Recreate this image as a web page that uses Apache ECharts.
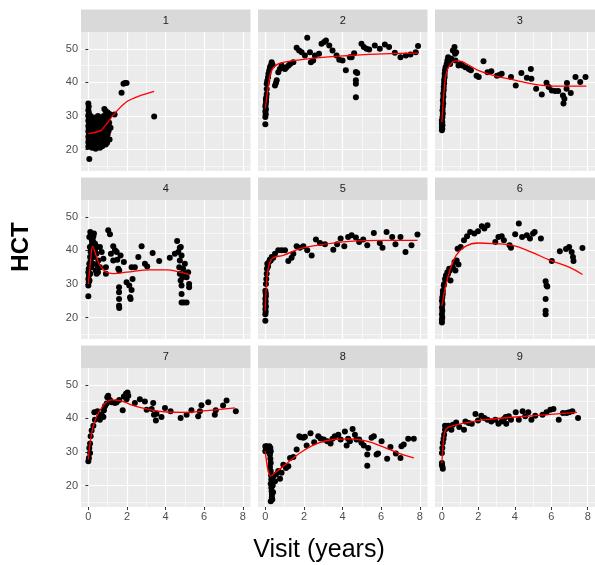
<!DOCTYPE html>
<html>
<head>
<meta charset="utf-8">
<script src="https://cdn.jsdelivr.net/npm/echarts@6/dist/echarts.min.js"></script>
<style>
  html, body { margin: 0; padding: 0; background: #fff; }
  #main { width: 595px; height: 565px; }
</style>
</head>
<body>
<div id="main"></div>
<script>
const panelNames = ["1", "2", "3", "4", "5", "6", "7", "8", "9"];
const xTicks = [0, 2, 4, 6, 8];
const xMinor = [1, 3, 5, 7];
const yTicks = [20, 30, 40, 50];
const yMinor = [15, 25, 35, 45];

// panel 1
const pts1 = [
  [0,33.7],[0.02,32.8],[0,31.7],[0.03,30.9],[0,30.2],[0.02,29.5],[0,28.6],[0.04,27.8],[0,27],[0.02,26.2],
  [0,25.4],[0.03,24.6],[0,23.8],[0.02,23],[0,22.2],[0.03,21.5],[0,20.8],[0.05,17.2],
  [0.1,24],[0.12,26.5],[0.15,28.5],[0.18,22.5],[0.2,25],[0.22,27.5],[0.25,21.5],[0.27,23.5],[0.3,26],[0.32,29],
  [0.35,24.5],[0.38,20.2],[0.4,22.5],[0.42,27],[0.45,25.5],[0.47,28.5],[0.5,23],[0.52,21.5],[0.55,26.5],[0.57,24],
  [0.6,28],[0.62,22],[0.65,25],[0.67,27.5],[0.7,23.5],[0.72,21],[0.75,26],[0.77,29],[0.8,24.5],[0.82,22.5],
  [0.85,27],[0.87,25.5],[0.9,31.5],[0.9,28.5],[0.92,23.5],[0.95,30.5],[0.95,26.5],[0.97,22],[1,24.5],[1,27.5],
  [1.02,29.5],[1,31],
  [0.05,21],[0.08,22.5],[0.1,28],[0.12,30],[0.15,23.5],[0.18,26],[0.2,20.5],[0.22,29.5],[0.25,27],[0.28,24.5],
  [0.3,22.5],[0.33,21],[0.35,27.5],[0.38,29.5],[0.4,25],[0.43,23.5],[0.45,21.5],[0.48,26],[0.5,30],[0.52,27],
  [0.55,22.5],[0.58,25.5],[0.6,20.5],[0.62,29.5],[0.65,23],[0.68,26],[0.7,28.5],[0.72,24.5],[0.75,22],[0.78,27],
  [0.8,30],[0.83,32.1],[0.83,25.5],[0.85,23],[0.88,29.5],[0.9,21.5],[0.92,26],[1.05,25.5],[1.08,28],[1.1,23],
  [1.12,30.5],[1.15,26.5],
  [1.36,30.4],[1.72,36.9],[1.82,39.6],[1.9,39.8],[1.98,39.8],[3.41,29.8]
];
const fit1 = [[0,24.7],[0.66,25.7],[1.34,30.6],[1.95,34.1],[2.72,36.1],[3.41,37.3]];

// panel 2
const pts2 = [
  [0,27.5],[0,29.7],[0.02,30.5],[0,31.3],[0.03,32],[0,32.8],[0.02,33.5],[0.04,34.3],[0.03,35],[0.05,35.6],
  [0.07,36.5],[0.07,38],[0.07,39.6],[0.1,40.5],[0.14,41.5],[0.16,42.6],[0.2,43.5],[0.24,44.5],[0.28,45],[0.33,46],
  [0.38,45.2],[0.5,39.1],[0.55,39.8],[0.59,40.6],[0.67,43],[0.75,44],[0.84,45],[0.95,44.2],[1.02,44],[1.1,44.5],
  [1.2,45],[1.28,45.5],[1.45,46],[1.62,50.3],[1.75,49.5],[1.88,49],[2.05,48],[2.17,53.3],[2.31,49],[2.36,46],
  [2.48,46.5],[2.57,48],[2.78,48.5],[2.91,51.5],[3.05,52],[3.14,52.5],[3.31,51],[3.48,49.5],[3.69,48],[3.83,46.7],
  [4,46.5],[4.17,43.6],[4.38,47.5],[4.47,47.5],[4.6,48.7],[4.69,43.1],[4.76,42.8],[4.69,40.6],[4.69,39.6],[4.69,35.6],
  [4.98,51.5],[5.1,50.5],[5.24,50],[5.38,49.8],[5.67,51],[5.93,50],[6.19,51.3],[6.41,50.5],[6.71,48.8],[7,47.5],
  [7.28,48],[7.52,48.3],[7.79,49],[7.91,50.8]
];
const fit2 = [[0,32.2],[0.16,39.1],[0.33,43.6],[0.67,45.5],[1.28,46.3],[2.66,47.3],[4.38,48],[6.1,48.5],[7.91,48.7]];

// panel 3
const pts3 = [
  [0,25.7],[0.02,26.2],[0,26.7],[0.03,27.2],[0,27.7],[0.02,28.2],[0,28.7],[0.03,29.7],[0.05,30.7],[0.03,31.7],
  [0.05,32.7],[0.07,33.7],[0.05,34.7],[0.08,35.7],[0.07,36.7],[0.1,37.7],[0.1,38.7],[0.12,39.7],[0.12,40.7],[0.15,41.6],
  [0.15,42.6],[0.17,43.6],[0.2,44.5],[0.26,45.5],[0.3,46.5],[0.34,47.5],[0.4,46.8],[0.45,45.5],[0.52,47],[0.6,49.5],
  [0.69,50.5],[0.72,48.5],[0.78,49],[0.74,46.5],[0.91,45],[1.02,45.5],[1.12,45],[1.29,44.5],[1.47,44],[1.59,43.6],
  [1.9,42],[2.02,41.6],[2.28,46.3],[2.5,43],[2.71,43.3],[3.02,42],[3.15,42.2],[3.28,42.6],[3.79,41.6],[4.05,39.1],
  [4.36,42.8],[4.66,41.4],[4.88,44],[4.91,41.1],[5.17,38.1],[5.48,36.4],[5.74,39.9],[5.86,38.6],[6.03,37.6],[6.21,37.4],
  [6.38,37.4],[6.64,36.1],[6.67,33.7],[6.72,35.1],[6.84,38.1],[6.86,39.8],[7.07,36.8],[7.33,41.6],[7.59,40.1],[7.88,41.6]
];
const fit3 = [[0,28.2],[0.12,37.6],[0.26,43.1],[0.52,45.7],[0.86,46.5],[1.29,45.7],[1.98,43.6],[3.02,41.8],[4.05,40.6],[5.09,39.4],[6.12,38.9],[7.93,38.9]];

// panel 4
const pts4 = [
  [0,26.3],[0,29.5],[0.02,30.5],[0,31.5],[0.03,32.5],[0,33.5],[0.02,34.5],[0.05,36],[0.09,38],[0.12,39.5],
  [0.14,40.5],[0.17,41.5],[0.2,42.5],[0.22,43.5],[0.26,44.2],[0.29,45],[0.26,42.5],[0.34,40],[0.43,33],[0.52,37],
  [0.47,35.5],[0.6,41],[0.69,39.5],[0.6,35],[0.78,37.5],[0.91,35],[0.91,33],[1.03,46],[1.12,44.8],[1.17,39],
  [1.29,41.2],[1.38,40],[1.29,37],[1.47,39.5],[1.5,37.2],[1.55,34.5],[1.6,34],[1.59,29],[1.59,27.5],[1.59,25.5],
  [1.59,23.5],[1.6,22.8],[1.67,38.5],[1.84,36.5],[1.98,30.5],[2.12,29.5],[2.16,26],[2.19,25.5],[2.24,28.2],[2.29,31.5],
  [2.24,35],[2.41,35],[2.59,38],[2.76,41.2],[2.93,36],[3.05,35.2],[3.33,39.2],[3.67,36.8],[4.22,37.8],[4.48,39],
  [4.6,42.8],[4.66,39.5],[4.74,40.8],[4.74,37],[4.79,41],[4.83,38.5],[4.71,35],[4.74,33],[4.78,31],[4.83,29.5],
  [4.83,27],[4.83,24.5],[4.95,24.5],[5.09,24.5],[4.91,34.5],[5,33],[5.09,32],[5.17,33.5],[5.22,30],[5.22,29],
  [5,36],[4.88,32],
  [0.05,44],[0.1,45.5],[0.15,44.5],[0.18,43],[0.08,41],[0.12,37],[0.15,35],[0.1,33],[0.06,31],[0.2,39],
  [0.25,36],[0.3,38],[0.35,42],[0.38,34],[0.42,39],[0.45,41],[0.5,33.5]
];
const fit4 = [[0,30],[0.12,37],[0.22,41.2],[0.4,38.5],[0.6,35.5],[0.9,33.6],[1.29,33.1],[1.98,33.5],[3.19,34.2],[4.05,34.2],[4.74,33.5],[5.26,32.7]];

// panel 5
const pts5 = [
  [0,19],[0,21],[0.02,21.7],[0,22.5],[0.03,23.3],[0,24],[0.02,24.8],[0,25.6],[0.03,26.4],[0.02,27.2],
  [0,28],[0.03,30],[0.05,31.5],[0.07,33],[0.08,34.5],[0.1,36],[0.14,35.2],[0.19,36.5],[0.23,37.2],[0.28,37],
  [0.33,38],[0.41,37.8],[0.5,39],[0.67,40],[0.84,40],[1.02,40],[1.19,36.8],[1.36,37.8],[1.45,39],[1.62,41.2],
  [1.79,40.8],[1.97,41.2],[2.17,40],[2.4,38.5],[2.62,43.2],[2.83,42.2],[3.09,41.8],[3.52,40.2],[3.72,41.8],[3.9,43.5],
  [4.09,41.2],[4.29,44],[4.47,44.5],[4.69,43.8],[4.86,42.5],[5.07,43.2],[5.28,41.5],[5.62,45.2],[5.93,42.2],[6.07,40.8],
  [6.28,45.5],[6.57,44],[6.74,41.8],[7,44],[7.26,39.5],[7.57,41.5],[7.88,44.7]
];
const fit5 = [[0,22],[0.07,31],[0.21,36],[0.41,37.8],[0.93,38.5],[1.79,40.5],[2.66,41.5],[4.38,42.7],[6.1,43],[7.88,43]];

// panel 6
const pts6 = [
  [0,18.5],[0,19.3],[0.02,20],[0,21],[0.02,22],[0,23],[0.03,24],[0,25],[0.02,26],[0.05,27],
  [0.05,28],[0.1,29.5],[0.12,30],[0.17,31.5],[0.22,32.5],[0.26,32],[0.3,33.5],[0.34,33],[0.4,34.5],[0.43,34],
  [0.47,31],[0.6,35],[0.69,36.5],[0.74,34],[0.81,37],[0.91,35.8],[0.86,40.5],[1.03,41],[1.21,43],[1.38,44.2],
  [1.55,45.5],[1.78,45],[1.98,45.7],[2.19,47.2],[2.33,46.5],[2.5,47.5],[2.93,42.5],[3.1,44],[3.28,44.2],[3.4,43],
  [3.71,41.5],[3.79,40.8],[4.02,44.8],[4.22,48],[4.4,44],[4.66,44.5],[4.83,43.5],[5,45],[5.09,45.5],[5.43,43.5],
  [5.69,30.8],[5.74,29.5],[5.78,29.2],[5.69,25.5],[5.69,22],[5.69,21],[6.03,36.8],[6.47,39.7],[6.81,40.4],[6.98,41],
  [7.12,39.5],[7.19,38],[7.22,36.8],[7.71,40.7]
];
const fit6 = [[0,23.5],[0.17,28.5],[0.43,34],[0.78,38.5],[1.29,41.2],[1.98,42.2],[2.84,42],[3.88,41.5],[4.91,39.5],[5.95,37],[6.98,35],[7.71,32.8]];

// panel 7
const pts7 = [
  [0,27.2],[0.03,28.2],[0.09,29.7],[0.05,31.2],[0.09,32.5],[0.12,34.7],[0.17,36.4],[0.26,37.8],[0.34,39.6],[0.31,41.8],
  [0.47,42.1],[0.6,39.6],[0.69,41.1],[0.78,40.4],[0.57,40.6],[0.81,42.4],[0.86,43.6],[0.95,44.4],[0.98,46.3],[1.03,46.7],
  [1.12,45.5],[1.21,44.8],[1.38,44.6],[1.47,44.8],[1.6,45.5],[1.78,42.4],[1.84,46.5],[1.95,47.3],[2.03,47.7],[2.07,46.7],
  [1.98,45.7],[2.41,44.6],[2.67,45.7],[2.93,45],[3.02,42.6],[3.28,42.8],[3.36,44.6],[3.4,41.1],[3.5,39.4],[3.53,41.4],
  [3.79,40.4],[3.97,43.1],[4.26,42.1],[4.78,40.1],[5.09,41.1],[5.34,42.4],[5.69,40.6],[5.78,42.1],[5.86,43.9],[6.21,44.8],
  [6.55,41.1],[6.6,42.4],[6.98,43.8],[7.16,45.3],[7.64,42.1]
];
const fit7 = [[0,27.7],[0.09,32.7],[0.26,37.8],[0.52,41.6],[0.86,44.4],[1.21,45.5],[1.64,45.3],[2.33,43.8],[3.19,42.6],[4.05,41.9],[5.09,41.8],[6.12,42.3],[7.59,43.1]];

// panel 8
const pts8 = [
  [0,31.7],[0,30.2],[0.03,31],[0.07,31.7],[0.1,30.5],[0.14,31.5],[0.17,30.7],[0.21,31.7],[0.26,31.2],[0.28,30.2],
  [0.24,29.2],[0.26,28],[0.28,26.7],[0.24,25.5],[0.28,24.3],[0.3,23],[0.31,21.8],[0.28,20.5],[0.31,19.3],[0.33,18.3],
  [0.34,17.3],[0.34,16.5],[0.36,15.8],[0.28,15.3],[0.38,20],[0.4,18],[0.36,22.5],[0.41,22.8],[0.5,21.3],[0.55,23.3],
  [0.67,24.3],[0.76,22],[0.84,23.8],[0.93,26.2],[1.07,25.2],[1.19,25.7],[1.28,28.2],[1.45,28.5],[1.62,30.7],[1.76,34.7],
  [1.83,34.4],[1.97,34.2],[2.05,34.5],[2.14,31.9],[2.34,35.6],[2.53,32.9],[2.74,34.7],[2.86,34],[3.03,33.7],[3.21,33.2],
  [3.38,32.5],[3.48,33.9],[3.6,34.7],[3.78,35.1],[3.9,33.7],[4.12,36.1],[4.21,31.9],[4.29,33.9],[4.38,33.2],[4.52,36.8],
  [4.64,35.1],[4.72,33.7],[4.86,33.7],[4.98,32.7],[5.1,31.9],[5.28,29.2],[5.28,25.9],[5.33,31.2],[5.5,34.2],[5.62,34.7],
  [5.76,29.2],[5.84,29.5],[6.02,33.2],[6.31,28],[6.48,31.5],[6.76,29.5],[7,28.2],[7.05,31.7],[7.17,32.2],[7.4,33.9],
  [7.69,33.9]
];
const fit8 = [[0,30.2],[0.28,22.8],[0.5,23.8],[0.93,25.7],[1.79,29.7],[2.66,32.5],[3.52,33.7],[4.38,33.9],[5.24,33.2],[6.1,31.5],[6.97,29.5],[7.69,28.2]];

// panel 9
const pts9 = [
  [0,26.7],[0.02,25.7],[0.05,25],[0,26.2],[0,29.7],[0.02,31.2],[0.05,32.7],[0.09,33.9],[0.12,35.1],[0.17,36.6],
  [0.17,37.8],[0.26,37.4],[0.34,37.8],[0.43,37.1],[0.52,36.6],[0.6,38.1],[0.78,38.8],[0.95,37.4],[1.21,36.6],[1.29,39.1],
  [1.47,38.6],[1.64,38.4],[1.84,41.3],[1.98,39.4],[2.16,40.8],[2.33,40.1],[2.5,39.6],[2.71,39.1],[2.93,39.6],[3.1,38.4],
  [3.28,39.1],[3.4,39.8],[3.53,38.4],[3.5,40.4],[3.67,40.6],[3.79,39.6],[4.05,41.8],[4.22,39.6],[4.43,42.1],[4.57,40.6],
  [4.74,41.8],[4.91,39.6],[5.12,40.8],[5.52,41.1],[5.74,41.8],[5.95,42.6],[6.12,42.8],[6.41,39.6],[6.64,41.6],[6.84,41.6],
  [6.98,41.8],[7.16,42.1],[7.47,40.1]
];
const fit9 = [[0,26.7],[0.09,33.7],[0.22,36.8],[0.6,37.8],[1.47,38.8],[2.33,39.6],[4.05,40.4],[5.78,41.1],[7.41,41.8]];

const panelPoints = [pts1, pts2, pts3, pts4, pts5, pts6, pts7, pts8, pts9];
const panelFits = [fit1, fit2, fit3, fit4, fit5, fit6, fit7, fit8, fit9];

const chart = echarts.init(document.getElementById("main"));

const colLeft = [81, 258, 435];
const rowTop = [32, 200, 368];
const panelW = 169.5;
const panelH = 139;
const stripH = 22.5;
const xMin = -0.38, xMax = 8.4;
const yMin = 13.6, yMax = 55;

const grids = [], xAxes = [], yAxes = [], series = [], graphics = [];

panelNames.forEach((name, i) => {
  const r = Math.floor(i / 3), c = i % 3;
  grids.push({
    left: colLeft[c], top: rowTop[r], width: panelW, height: panelH,
    show: true, backgroundColor: "#ebebeb", borderWidth: 0
  });
  const showX = r === 2, showY = c === 0;
  // major axes
  xAxes.push({
    type: "value", gridIndex: i, min: xMin, max: xMax, position: "bottom",
    axisLine: { show: false },
    axisTick: { show: showX, customValues: xTicks, length: 3, lineStyle: { color: "#333" } },
    axisLabel: { show: showX, customValues: xTicks, color: "#4d4d4d", fontSize: 11, margin: 4, fontFamily: "Liberation Sans" },
    splitLine: { show: true, lineStyle: { color: "#fff", width: 1.2 } }
  });
  yAxes.push({
    type: "value", gridIndex: i, min: yMin, max: yMax, position: "left",
    axisLine: { show: false },
    axisTick: { show: showY, customValues: yTicks, length: 3, lineStyle: { color: "#333" } },
    axisLabel: { show: showY, customValues: yTicks, color: "#4d4d4d", fontSize: 11, margin: 3, fontFamily: "Liberation Sans" },
    splitLine: { show: true, lineStyle: { color: "#fff", width: 1.2 } }
  });
  // minor grid axes
  xAxes.push({
    type: "value", gridIndex: i, min: xMin, max: xMax, position: "top",
    axisLine: { show: false },
    axisTick: { show: false, customValues: xMinor },
    axisLabel: { show: false, customValues: xMinor },
    splitLine: { show: true, lineStyle: { color: "#fff", width: 0.6 } }
  });
  yAxes.push({
    type: "value", gridIndex: i, min: yMin, max: yMax, position: "right",
    axisLine: { show: false },
    axisTick: { show: false, customValues: yMinor },
    axisLabel: { show: false, customValues: yMinor },
    splitLine: { show: true, lineStyle: { color: "#fff", width: 0.6 } }
  });

  series.push({
    type: "scatter", xAxisIndex: 2 * i, yAxisIndex: 2 * i,
    data: panelPoints[i], symbolSize: 6,
    itemStyle: { color: "#000", opacity: 1 }, silent: true
  });
  series.push({
    type: "line", xAxisIndex: 2 * i, yAxisIndex: 2 * i,
    data: panelFits[i], smooth: i === 0 ? 0.15 : 0.4, showSymbol: false, symbol: "none",
    lineStyle: { color: "#ff0000", width: 1.3 }, silent: true, z: 3
  });

  // strip on top of each panel
  graphics.push({
    type: "rect",
    shape: { x: colLeft[c], y: rowTop[r] - stripH, width: panelW, height: stripH },
    style: { fill: "#d9d9d9" }
  });
  graphics.push({
    type: "text",
    x: colLeft[c] + panelW / 2, y: rowTop[r] - stripH / 2,
    style: { text: name, fill: "#1a1a1a", font: '11px "Liberation Sans"', align: "center", verticalAlign: "middle" }
  });
});

graphics.push({
  type: "text", x: 21, y: 247, rotation: Math.PI / 2,
  style: { text: "HCT", fill: "#000", font: 'bold 24px "Liberation Sans"', align: "center", verticalAlign: "middle" }
});
graphics.push({
  type: "text", x: 319, y: 550,
  style: { text: "Visit (years)", fill: "#000", font: '25px "Liberation Sans"', align: "center", verticalAlign: "middle" }
});

chart.setOption({
  animation: false,
  backgroundColor: "#fff",
  grid: grids,
  xAxis: xAxes,
  yAxis: yAxes,
  series: series,
  graphic: graphics
});
</script>
</body>
</html>
